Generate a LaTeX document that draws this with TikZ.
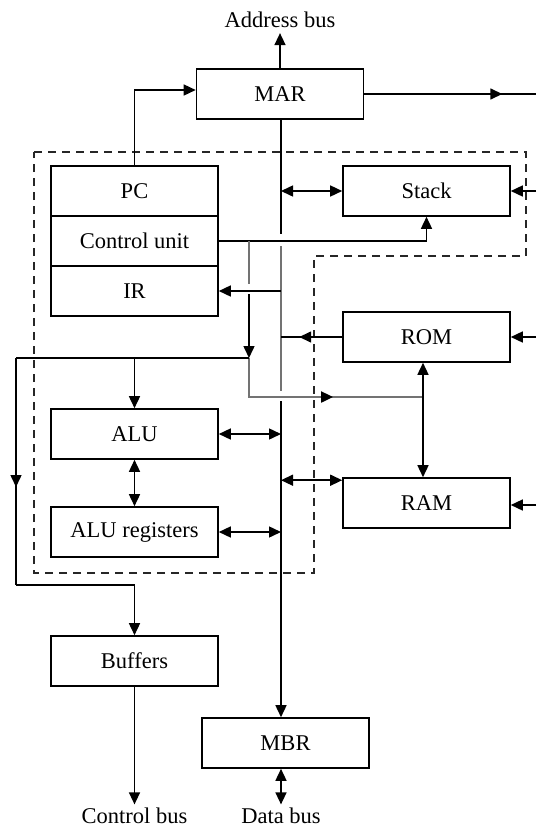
\documentclass[tikz,border=0pt]{standalone}
\usepackage{fontspec}
\setmainfont{Liberation Serif}
\usetikzlibrary{arrows.meta,decorations.markings}
\begin{document}
\begin{tikzpicture}[x=1pt,y=-1pt,
  every node/.style={font=\fontsize{22.5}{26}\selectfont},
  blk/.style={draw, line width=1.6pt, minimum width=167pt, minimum height=50pt, inner sep=0pt},
  lbl/.style={inner sep=5.5pt},
  lblb/.style={inner sep=3.5pt},
  ln/.style={line width=1.5pt},
  gr/.style={line width=2.4pt, draw=black!55},
  >={Triangle[length=12pt,width=11pt]},
  midarr/.style={postaction={decorate}, decoration={markings, mark=at position #1 with {\arrow[black]{Triangle[length=12pt,width=11pt]}}}},
  dsh/.style={line width=1.6pt, draw=black!85, dash pattern=on 8pt off 6pt}
]
\useasboundingbox (0,0) rectangle (536,828);

% dashed processor boundary
\draw[dsh] (34,152) -- (526,152) -- (526,256) -- (314,256) -- (314,573) -- (34,573) -- cycle;

% boxes
\node[blk] (MAR) at (280,94) {MAR};
\node[blk] (PC) at (134.5,191) {PC};
\node[blk] (CU) at (134.5,241) {Control unit};
\node[blk] (IR) at (134.5,291) {IR};
\node[blk] (Stack) at (426.5,191) {Stack};
\node[blk] (ROM) at (426.5,337) {ROM};
\node[blk] (ALU) at (134.5,434) {ALU};
\node[blk] (ALUR) at (134.5,532) {ALU registers};
\node[blk] (RAM) at (426.5,503) {RAM};
\node[blk] (BUF) at (134.5,661) {Buffers};
\node[blk] (MBR) at (285.5,743) {MBR};

% labels
\node[lbl] (addr) at (280,19.5) {Address bus};
\node[lblb] (cbus) at (134.5,816) {Control bus};
\node[lblb] (dbus) at (281,816) {Data bus};

% coordinates
\coordinate (ext) at (536,0);
\coordinate (bT) at (281,234);
\coordinate (bG1) at (281,246);
\coordinate (bG2) at (281,391);
\coordinate (bB) at (281,401);
\coordinate (cA) at (249,241);
\coordinate (cB) at (249,284);
\coordinate (cC) at (249,294);
\coordinate (j1) at (249,358);
\coordinate (j2) at (249,397);
\coordinate (L1) at (16,358);
\coordinate (L2) at (16,585);
\coordinate (rT) at ([xshift=-3.5pt]ROM.south);
\coordinate (rB) at ([xshift=-3.5pt]RAM.north);
\coordinate (jr) at (rT |- j2);
\coordinate (ramL) at ([yshift=-3pt]RAM.north west);

% MAR connections
\draw[ln,->] (MAR.north) -- (addr.south);
\draw[ln,->] (PC.north) |- ([yshift=4pt]MAR.west);
\draw[ln,midarr=138pt] (MAR.east) -- (MAR.east -| ext);

% internal bus
\draw[ln] (MAR.south -| bT) -- (bT);
\draw[gr] (bG1) -- (bG2);
\draw[ln,->] (bB) -- (bB |- MBR.north);
\draw[ln,<->] (MBR.south -| dbus) -- (dbus.north);

% stack
\draw[ln,<->] (Stack.west -| bT) -- (Stack.west);
\draw[ln,->] (Stack.east -| ext) -- (Stack.east);
\draw[ln,->] (CU.east) -| (Stack.south);

% control signals
\draw[gr] (cA) -- (cB);
\draw[ln,->] (cC) -- (j1);
\draw[ln,<-] (IR.east) -- (IR.east -| bG1);
\draw[gr,midarr=123pt] (j1) -- (j2) -- (jr);
\draw[ln] (j1) -- (L1);
\draw[ln,midarr=129pt] (L1) -- (L2);
\draw[ln,->] (L2) -| (BUF.north);
\draw[ln,->] (ALU.north |- j1) -- (ALU.north);
\draw[ln,->] (BUF.south) -- (cbus.north);

% ROM / RAM
\draw[ln,midarr=43pt] (ROM.west) -- (ROM.west -| bG1);
\draw[ln,->] (ROM.east -| ext) -- (ROM.east);
\draw[ln,<->] (rT) -- (rB);
\draw[ln,<->] (ramL -| bB) -- (ramL);
\draw[ln,->] ([yshift=-2pt]RAM.east -| ext) -- ([yshift=-2pt]RAM.east);

% ALU
\draw[ln,<->] (ALU.east) -- (ALU.east -| bB);
\draw[ln,<->] (ALU.south) -- (ALUR.north);
\draw[ln,<->] (ALUR.east) -- (ALUR.east -| bB);
\end{tikzpicture}
\end{document}
